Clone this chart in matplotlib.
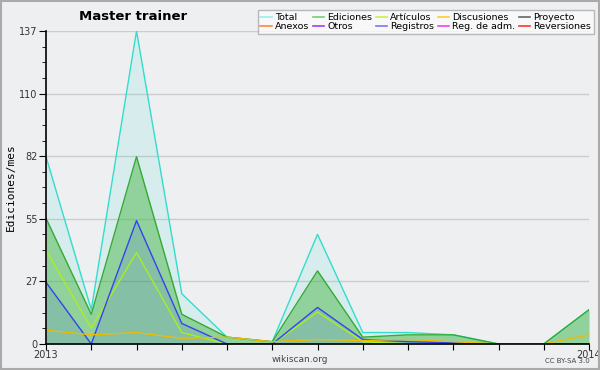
import numpy as np
import matplotlib
matplotlib.use("Agg")
import matplotlib.pyplot as plt
from matplotlib.lines import Line2D
from matplotlib.patches import Rectangle

# monthly edit counts, Jan 2013 .. Jan 2014
months = list(range(13))
total = [82, 15, 137, 22, 3, 1, 48, 5, 5, 4, 0, 0, 15]
ediciones = [55, 13, 82, 13, 3, 1, 32, 3, 4, 4, 0, 0, 15]
articulos = [41, 7, 40, 5, 0, 0, 14, 1, 0, 0, 0, 0, 0]
registros = [27, 0, 54, 9, 0, 0, 16, 2, 1, 0.5, 0, 0, 0]
discusiones = [6, 4, 5, 2.5, 3, 1, 2, 1.5, 2, 1, 0, 0, 4]

legend_names = ["Total", "Ediciones", "Artículos", "Discusiones", "Proyecto",
                "Anexos", "Otros", "Registros", "Reg. de adm.", "Reversiones"]
legend_colors = ["#99eeee", "#77cc77", "#ccee44", "#ffcc33", "#666666",
                 "#ff8844", "#9944ee", "#7777ff", "#ee44ee", "#ff3333"]

ymax = 137

bg = "#eeeff1"
fig = plt.figure(figsize=(6, 3.7), dpi=100)
fig.patch.set_facecolor(bg)
fig.patches.append(Rectangle((0.0015, 0.0025), 0.997, 0.995, transform=fig.transFigure,
                             fill=False, edgecolor="#aaaaaa", linewidth=1.5))

ax = fig.add_axes([0.0767, 0.0703, 0.905, 0.8459])
ax.set_facecolor(bg)

ax.fill_between(months, total, color="#33ddcc", alpha=0.12, linewidth=0)
ax.fill_between(months, ediciones, color="#3cb43c", alpha=0.45, linewidth=0)
ax.fill_between(months, registros, color="#3344ee", alpha=0.13, linewidth=0)

ax.plot(months, total, color="#33ddcc", lw=1.0)
ax.plot(months, ediciones, color="#33aa33", lw=1.0)
ax.plot(months, articulos, color="#aaee22", lw=1.0)
ax.plot(months, registros, color="#3344ee", lw=1.0)
ax.plot(months, discusiones, color="#eebb00", lw=1.0)

ax.set_xlim(0, 12)
ax.set_ylim(0, ymax)
major = [ymax * k / 5 for k in range(6)]
ax.set_yticks(major)
ax.set_yticklabels([str(int(round(v))) for v in major], fontsize=7, color="#333333")
ax.set_yticks([ymax * k / 20 for k in range(21)], minor=True)
ax.grid(axis="y", which="major", color="#cccccc", lw=1.0)
ax.set_axisbelow(True)

ax.set_xticks(months)
ax.set_xticklabels(["2013"] + [""] * 11 + ["2014"], fontsize=7, color="#333333")
ax.tick_params(axis="x", length=4, pad=0)
ax.tick_params(axis="y", which="major", length=5, pad=1)
ax.tick_params(axis="y", which="minor", length=3)

for s in ["top", "right"]:
    ax.spines[s].set_visible(False)
ax.spines["left"].set_linewidth(1.2)
ax.spines["bottom"].set_linewidth(1.2)

ax.set_ylabel("Ediciones/mes", fontsize=8, family="DejaVu Sans Mono")
ax.yaxis.set_label_coords(-0.055, 0.5)

fig.text(133 / 600, 1 - 17 / 370, "Master trainer", fontsize=9.5, fontweight="bold",
         ha="center", va="center")
fig.text(300 / 600, 1 - 360 / 370, "wikiscan.org", fontsize=6.5, color="#444444",
         ha="center", va="center")
fig.text(590 / 600, 1 - 361 / 370, "CC BY-SA 3.0", fontsize=5, color="#444444",
         ha="right", va="center")

# legend: matplotlib fills columns first, so reorder to get rows as in the picture
order = [0, 5, 1, 6, 2, 7, 3, 8, 4, 9]
handles = [Line2D([], [], color=legend_colors[i], lw=1.2) for i in order]
labels = [legend_names[i] for i in order]
leg = fig.legend(handles, labels, ncol=5, loc="upper right",
                 bbox_to_anchor=(594 / 600, 1 - 10 / 370), fontsize=6.8,
                 frameon=True, fancybox=False, handlelength=1.2, handletextpad=0.35,
                 columnspacing=0.35, labelspacing=0.05, borderpad=0.3,
                 borderaxespad=0)
leg.get_frame().set_facecolor("#fbfbfb")
leg.get_frame().set_edgecolor("#aaaaaa")
leg.get_frame().set_linewidth(1.0)

fig.savefig("out.png", dpi=100, facecolor=bg)
